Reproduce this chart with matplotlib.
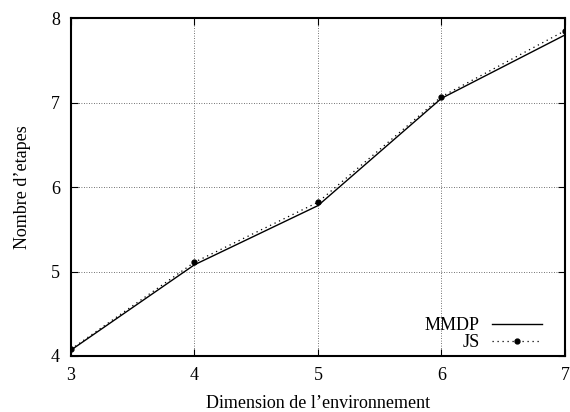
import matplotlib
matplotlib.use("Agg")
import matplotlib.pyplot as plt

dims = [3, 4, 5, 6, 7]
mmdp = [4.07, 5.08, 5.78, 7.05, 7.80]
js = [4.08, 5.11, 5.82, 7.07, 7.85]
xticks = [3, 4, 5, 6, 7]
yticks = [4, 5, 6, 7, 8]

plt.rcParams['font.family'] = ['Liberation Serif', 'DejaVu Serif']
plt.rcParams['font.size'] = 13

fig = plt.figure(figsize=(5.7, 4.12), dpi=100)
ax = fig.add_axes([0.1246, 0.136, 0.8664, 0.820])

ax.plot(dims, mmdp, color='black', lw=1.0, label='MMDP')
ax.plot(dims, js, color='black', lw=0.9, ls=(0, (1, 3)), marker='o', ms=3.5,
        label='JS')

ax.set_xlim(3, 7)
ax.set_ylim(4, 8)
ax.set_xticks(xticks)
ax.set_yticks(yticks)
ax.grid(True, color='#444444', ls=(0, (1, 2)), lw=0.6)
ax.tick_params(direction='in', top=True, right=True, length=5, width=0.8,
               pad=8, labelsize=13)
for s in ax.spines.values():
    s.set_linewidth(1.5)

ax.set_xlabel("Dimension de l\u2019environnement", labelpad=8)
ax.set_ylabel("Nombre d\u2019etapes", labelpad=14)

leg = ax.legend(loc='lower right', bbox_to_anchor=(542 / 570, 61 / 412),
                bbox_transform=fig.transFigure, markerfirst=False,
                frameon=False, numpoints=1, handlelength=2.78,
                handletextpad=0.67, labelspacing=0.0, borderpad=0,
                borderaxespad=0, fontsize=13)
for t in leg.get_texts():
    t.set_ha('right')

fig.savefig('out.png', dpi=100)
